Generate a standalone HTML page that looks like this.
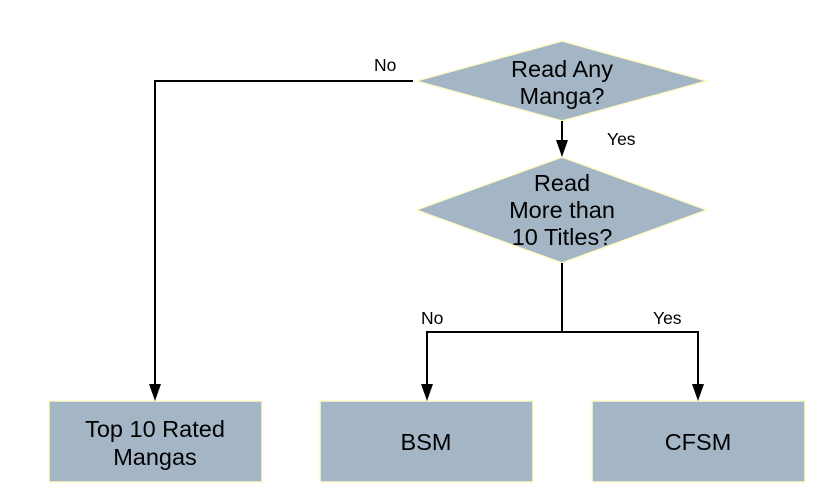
<!DOCTYPE html>
<html><head><meta charset="utf-8"><style>
html,body{margin:0;padding:0;background:#fff;}
svg{display:block;}
text{font-family:"Liberation Sans",Arial,sans-serif;fill:#000;}
</style></head><body>
<svg width="821" height="489" viewBox="0 0 821 489" xmlns="http://www.w3.org/2000/svg">
<g fill="#a4b6c5" stroke="#fdfbc8" stroke-width="1.5">
<polygon points="562,41 707,81 562,121 416,81"/>
<polygon points="562,157 707,210 562,263 416,210"/>
<rect x="49" y="401" width="213" height="81"/>
<rect x="320" y="401" width="213" height="81"/>
<rect x="592" y="401" width="213" height="81"/>
</g>
<g stroke="#000" stroke-width="2" fill="none">
<polyline points="413,81 155,81 155,386"/>
<line x1="562" y1="121" x2="562" y2="142"/>
<line x1="562" y1="263" x2="562" y2="332"/>
<polyline points="427,386 427,332 698,332 698,386"/>
</g>
<g fill="#000">
<polygon points="149,384 161,384 155,401"/>
<polygon points="556,140 568,140 562,157"/>
<polygon points="421,384 433,384 427,401"/>
<polygon points="692,384 704,384 698,401"/>
</g>
<g font-size="23.5" text-anchor="middle">
<text x="562" y="77">Read Any</text>
<text x="562" y="104">Manga?</text>
<text x="562" y="191">Read</text>
<text x="562" y="218">More than</text>
<text x="562" y="245">10 Titles?</text>
<text x="155" y="437">Top 10 Rated</text>
<text x="155" y="465">Mangas</text>
<text x="426" y="450">BSM</text>
<text x="698" y="450">CFSM</text>
</g>
<g font-size="17.5">
<text x="374" y="71">No</text>
<text x="607" y="145">Yes</text>
<text x="421" y="324">No</text>
<text x="653" y="324">Yes</text>
</g>
</svg>
</body></html>
